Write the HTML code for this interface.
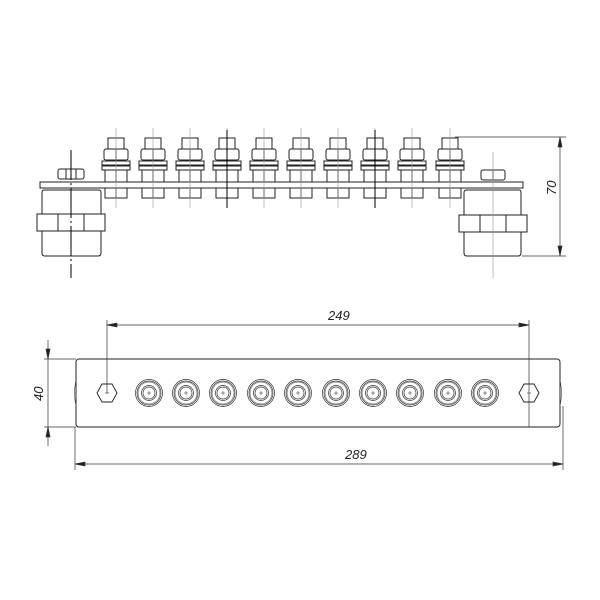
<!DOCTYPE html>
<html><head><style>body{margin:0;background:#fff}svg{display:block}</style></head><body>
<svg width="600" height="600" viewBox="0 0 600 600" xmlns="http://www.w3.org/2000/svg" font-family="Liberation Sans, sans-serif">
<defs>
<g id="stud" fill="#fff" stroke="#222" stroke-width="1">
<rect x="-8" y="138" width="16" height="11"/>
<rect x="-12" y="149" width="24" height="11" rx="2"/>
<line x1="0" y1="149" x2="0" y2="160"/>
<rect x="-14" y="161" width="28" height="4"/>
<rect x="-14" y="166" width="28" height="4"/>
<rect x="-11" y="170" width="22" height="12"/>
<line x1="0" y1="170" x2="0" y2="182"/>
<rect x="-11" y="188" width="22" height="10"/>
<line x1="0" y1="188" x2="0" y2="198"/>
<line x1="0" y1="128" x2="0" y2="208" stroke="#999" stroke-width="0.6"/>
</g>
<g id="ring" fill="none" stroke="#333" stroke-width="0.7">
<circle r="13.5"/><circle r="12"/><circle r="11" stroke-width="0.5"/><circle r="7.5"/><circle r="6"/>
<line x1="-2" y1="0" x2="2" y2="0" stroke-width="0.5"/><line x1="0" y1="-2" x2="0" y2="2" stroke-width="0.5"/>
</g>
<g id="hex" fill="none" stroke="#222" stroke-width="0.9">
<polygon points="-10,0 -5,-9 5,-9 10,0 5,9 -5,9"/>
<line x1="-2" y1="0" x2="2" y2="0" stroke-width="0.6"/>
</g>
</defs>
<g fill="#fff" stroke="#222" stroke-width="1">
<rect x="40" y="182" width="483" height="6"/>
<rect x="58" y="169" width="26" height="10" rx="2"/>
<line x1="66" y1="169" x2="66" y2="179"/><line x1="76" y1="169" x2="76" y2="179"/>
<rect x="481" y="170" width="24" height="10" rx="2"/>
<line x1="493" y1="170" x2="493" y2="180"/>
<path d="M44,190 H99 Q101,190 101,193 V253 Q101,256 98,256 H45 Q42,256 42,253 V193 Q42,190 44,190Z"/>
<rect x="37" y="214" width="68" height="17"/>
<line x1="58" y1="214" x2="58" y2="231"/><line x1="84" y1="214" x2="84" y2="231"/>
<path d="M466,190 H519 Q521,190 521,193 V253 Q521,256 518,256 H467 Q464,256 464,253 V193 Q464,190 466,190Z"/>
<rect x="459" y="215" width="68" height="17"/>
<line x1="480" y1="215" x2="480" y2="232"/><line x1="506" y1="215" x2="506" y2="232"/>
</g>
<line x1="71" y1="150" x2="71" y2="278" stroke="#000" stroke-width="1" stroke-dasharray="30,3,2,3"/>
<line x1="493" y1="152" x2="493" y2="278" stroke="#999" stroke-width="0.6"/>
<use href="#stud" x="116"/><use href="#stud" x="153"/><use href="#stud" x="190"/><use href="#stud" x="227"/><use href="#stud" x="264"/>
<use href="#stud" x="301"/><use href="#stud" x="338"/><use href="#stud" x="375"/><use href="#stud" x="412"/><use href="#stud" x="450"/>
<line x1="227" y1="130" x2="227" y2="208" stroke="#000" stroke-width="1"/>
<line x1="375" y1="130" x2="375" y2="208" stroke="#000" stroke-width="1"/>
<g stroke="#333" stroke-width="0.7" fill="#222">
<line x1="455" y1="137" x2="566" y2="137"/>
<line x1="522" y1="256" x2="566" y2="256"/>
<line x1="560" y1="137" x2="560" y2="256"/>
<polygon points="560,137 558,147 562,147"/><polygon points="560,256 558,246 562,246"/>
</g>
<text x="0" y="0" font-size="13" font-style="italic" transform="translate(556,195) rotate(-90)" fill="#222">70</text>
<rect x="76" y="359" width="484" height="68" rx="3" fill="#fff" stroke="#222" stroke-width="1"/>
<path d="M76,380 Q73,393 76,406" fill="none" stroke="#444" stroke-width="0.6"/>
<path d="M560,380 Q563,393 560,406" fill="none" stroke="#444" stroke-width="0.6"/>
<use href="#hex" x="107" y="393"/><use href="#hex" x="529" y="393"/>
<use href="#ring" x="149" y="393"/><use href="#ring" x="186" y="393"/><use href="#ring" x="223" y="393"/><use href="#ring" x="261" y="393"/><use href="#ring" x="298" y="393"/>
<use href="#ring" x="336" y="393"/><use href="#ring" x="373" y="393"/><use href="#ring" x="410" y="393"/><use href="#ring" x="448" y="393"/><use href="#ring" x="485" y="393"/>
<g stroke="#333" stroke-width="0.7" fill="#222">
<line x1="107" y1="320" x2="107" y2="393"/><line x1="529" y1="320" x2="529" y2="427"/>
<line x1="107" y1="325" x2="529" y2="325"/>
<polygon points="107,325 117,323 117,327"/><polygon points="529,325 519,323 519,327"/>
<line x1="75" y1="427" x2="75" y2="470"/><line x1="563" y1="406" x2="563" y2="470"/>
<line x1="75" y1="464" x2="563" y2="464"/>
<polygon points="75,464 85,462 85,466"/><polygon points="563,464 553,462 553,466"/>
<line x1="44" y1="359" x2="76" y2="359"/><line x1="44" y1="427" x2="76" y2="427"/>
<line x1="48" y1="340" x2="48" y2="446"/>
<polygon points="48,359 46,349 50,349"/><polygon points="48,427 46,437 50,437"/>
</g>
<text x="328" y="320" font-size="13" font-style="italic" fill="#222">249</text>
<text x="345" y="459" font-size="13" font-style="italic" fill="#222">289</text>
<text x="0" y="0" font-size="13" font-style="italic" transform="translate(43,401) rotate(-90)" fill="#222">40</text>
</svg>
</body></html>
